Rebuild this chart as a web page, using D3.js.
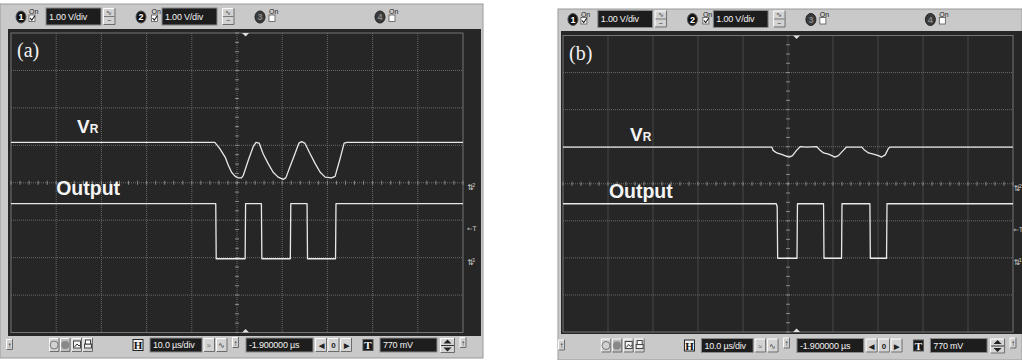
<!DOCTYPE html>
<html>
<head>
<meta charset="utf-8">
<script src="https://cdn.jsdelivr.net/npm/d3@7"></script>
<style>
  body { margin: 0; background: #fff; }
  svg { display: block; font-family: 'Liberation Sans', Arial, sans-serif; }
</style>
</head>
<body>
<svg id="chart" width="1022" height="360"></svg>
<script>
// scope settings
const channelLabels = ['1', '2', '3', '4'];
const channelOn = [true, true, false, false];
const voltLabels = ['1.00 V/div', '1.00 V/div'];
const timeLabel = '10.0 \u00b5s/div';
const delayLabel = '-1.900000 \u00b5s';
const trigLabel = '770 mV';
const delayUs = -1.9;
const trigVolts = 0.77;
const groundDiv = [-2, 0]; // ch1 (Output), ch2 (VR) ground markers, in divisions

// traces: [time us, screen volts from centre line]
const vrA = [
  [0, 1.08], [45.1, 1.08], [46.2, 0.91], [47.4, 0.68], [48.1, 0.46], [48.8, 0.28], [49.6, 0.17],
  [50.3, 0.13], [51.0, 0.13], [51.4, 0.2], [52.5, 0.6], [53.6, 0.97], [54.2, 1.08], [54.9, 1.06],
  [55.8, 0.77], [56.9, 0.51], [58.0, 0.28], [59.1, 0.15], [60.2, 0.09], [60.8, 0.13], [61.7, 0.42],
  [62.8, 0.77], [63.7, 1.06], [64.3, 1.1], [65.0, 1.06], [66.2, 0.77], [67.3, 0.51], [68.4, 0.28],
  [69.5, 0.15], [70.9, 0.13], [71.7, 0.17], [72.8, 0.64], [73.7, 1.06], [74.3, 1.08], [100, 1.08]
];
const outA = [
  [0, -0.56], [45.3, -0.56], [45.4, -2.03], [51.8, -2.03], [51.9, -0.56], [55.4, -0.56],
  [55.5, -2.03], [61.8, -2.03], [61.9, -0.56], [65.5, -0.56], [65.6, -2.03], [71.8, -2.03],
  [71.9, -0.56], [100, -0.56]
];
const vrB = [
  [0, 0.99], [46.4, 0.99], [46.7, 0.9], [47.5, 0.83], [48.6, 0.79], [49.7, 0.74], [50.3, 0.72],
  [51.0, 0.76], [51.9, 0.9], [52.7, 1.0], [54.2, 0.99], [56.4, 1.0], [57.0, 0.92], [57.9, 0.83],
  [59.0, 0.8], [60.1, 0.74], [60.4, 0.72], [61.2, 0.76], [62.3, 0.9], [63.0, 0.99], [66.4, 0.99],
  [66.9, 0.92], [67.9, 0.83], [69.0, 0.8], [70.1, 0.76], [70.8, 0.72], [71.6, 0.78], [72.3, 0.95],
  [72.7, 0.99], [100, 0.99]
];
const outB = [
  [0, -0.54], [47.4, -0.54], [47.6, -0.62], [47.7, -2.01], [52.0, -2.01], [52.1, -0.54],
  [57.9, -0.54], [58.0, -2.01], [61.9, -2.01], [62.0, -0.54], [68.2, -0.54], [68.3, -2.01],
  [71.9, -2.01], [72.0, -0.54], [100, -0.54]
];

// layout of the two screenshots
const panels = [
  { tag: '(a)', vr: vrA, out: outA,
    outer: [0, 4, 483, 358], screen: [8, 29, 481, 336], grid: [11, 33, 463, 332.5],
    topY: 16.5, botY: 345, vrAt: [14.6, 1.34], outAt: [10.0, -0.34], markX: 467 },
  { tag: '(b)', vr: vrB, out: outB,
    outer: [558, 9, 1022, 360], screen: [561, 31, 1022, 334], grid: [563, 35.5, 1013, 332],
    topY: 19, botY: 345.5, vrAt: [14.9, 1.16], outAt: [10.2, -0.38], markX: 1013.5 }
];

const svg = d3.select('#chart');

function bevel(g, x, y, w, h, fill) {
  g.append('rect').attr('x', x).attr('y', y).attr('width', w).attr('height', h)
    .attr('fill', fill || '#d4d4d4');
  g.append('path').attr('d', `M${x + 0.5},${y + h}V${y + 0.5}H${x + w}`)
    .attr('stroke', '#fbfbfb').attr('fill', 'none');
  g.append('path').attr('d', `M${x + 0.5},${y + h - 0.5}H${x + w - 0.5}V${y}`)
    .attr('stroke', '#6c6c6c').attr('fill', 'none');
}

function darkBox(g, x, y, w, h, text) {
  g.append('rect').attr('x', x).attr('y', y).attr('width', w).attr('height', h)
    .attr('fill', '#1d1d1d').attr('stroke', '#8a8a8a');
  g.append('text').attr('x', x + 3).attr('y', y + h / 2 + 3.3)
    .attr('fill', '#f2f2f2').attr('font-size', 9).attr('letter-spacing', -0.2).text(text);
}

function arrowBtn(g, x, y) {
  bevel(g, x, y, 7, 11, '#d0d0d0');
  g.append('text').attr('x', x + 3.5).attr('y', y + 8.5).attr('text-anchor', 'middle')
    .attr('font-size', 8).attr('fill', '#222').text('\u2191');
}

function drawPanel(p) {
  const g = svg.append('g');
  const [gx0, gy0, gx1, gy1] = p.grid;
  const kx = (gx1 - gx0) / 452;
  const ox = v => gx0 + v * kx;

  const x = d3.scaleLinear().domain([0, 100]).range([gx0, gx1]);
  const y = d3.scaleLinear().domain([-4, 4]).range([gy1, gy0]);

  // frame + screen
  g.append('rect').attr('x', p.outer[0]).attr('y', p.outer[1])
    .attr('width', p.outer[2] - p.outer[0]).attr('height', p.outer[3] - p.outer[1])
    .attr('fill', '#c9c9c9').attr('stroke', '#9a9a9a');
  g.append('rect').attr('x', p.screen[0]).attr('y', p.screen[1])
    .attr('width', p.screen[2] - p.screen[0]).attr('height', p.screen[3] - p.screen[1])
    .attr('fill', '#262626');

  // graticule
  const grid = g.append('g').attr('stroke', '#6a6a6a').attr('stroke-width', 1);
  grid.selectAll('.vl').data(d3.range(10, 100, 10)).enter().append('line')
    .attr('x1', d => x(d)).attr('x2', d => x(d)).attr('y1', gy0).attr('y2', gy1)
    .attr('stroke-dasharray', '1,1');
  grid.selectAll('.hl').data(d3.range(-3, 4, 1)).enter().append('line')
    .attr('x1', gx0).attr('x2', gx1).attr('y1', d => y(d)).attr('y2', d => y(d))
    .attr('stroke-dasharray', '1,1');
  grid.append('rect').attr('x', gx0).attr('y', gy0).attr('width', gx1 - gx0).attr('height', gy1 - gy0)
    .attr('fill', 'none').attr('stroke', '#747474');

  // centre cross minor ticks
  grid.selectAll('.ht').data(d3.range(0, 101, 2)).enter().append('line')
    .attr('x1', d => x(d)).attr('x2', d => x(d)).attr('y1', y(0) - 2).attr('y2', y(0) + 2)
    .attr('stroke', '#8a8a8a');
  grid.selectAll('.vt').data(d3.range(-4, 4.01, 0.25)).enter().append('line')
    .attr('x1', x(50) - 2).attr('x2', x(50) + 2).attr('y1', d => y(d)).attr('y2', d => y(d))
    .attr('stroke', '#8a8a8a');

  // trigger position markers
  const tx = x(50 - delayUs);
  g.append('path').attr('d', `M${tx - 3.5},${gy0}L${tx + 3.5},${gy0}L${tx},${gy0 + 3.5}Z`).attr('fill', '#e0e0e0');
  g.append('path').attr('d', `M${tx - 3.5},${gy1}L${tx + 3.5},${gy1}L${tx},${gy1 - 3.5}Z`).attr('fill', '#e0e0e0');

  // right edge markers
  const mk = g.append('g').attr('fill', '#cfcfcf').attr('font-family', 'DejaVu Sans, sans-serif');
  [1, 0].forEach(ci => {
    mk.append('text').attr('x', p.markX).attr('y', y(groundDiv[ci]) + 7)
      .attr('font-size', 8).text('\u21c5');
    mk.append('text').attr('x', p.markX + 5).attr('y', y(groundDiv[ci]) + 4)
      .attr('font-size', 5.5).text(channelLabels[ci]);
  });
  mk.append('text').attr('x', p.markX).attr('y', y(groundDiv[0] + trigVolts) + 2.5)
    .attr('font-size', 6.5).text('\u2190T');

  // traces
  const line = d3.line().x(d => x(d[0])).y(d => y(d[1]));
  [p.vr, p.out].forEach(s => {
    g.append('path').datum(s).attr('d', line).attr('fill', 'none')
      .attr('stroke', '#e8e8e8').attr('stroke-width', 1.3).attr('stroke-linejoin', 'round');
  });

  // labels on the screen
  g.append('text').attr('x', gx0 + 6).attr('y', gy0 + 24)
    .attr('font-family', 'Liberation Serif, Times New Roman, serif').attr('font-size', 20)
    .attr('fill', '#f2f2f2').text(p.tag);
  const vr = g.append('text').attr('x', x(p.vrAt[0])).attr('y', y(p.vrAt[1]))
    .attr('font-weight', 'bold').attr('fill', '#f4f4f4');
  vr.append('tspan').attr('font-size', 19).text('V');
  vr.append('tspan').attr('font-size', 12).text('R');
  g.append('text').attr('x', x(p.outAt[0])).attr('y', y(p.outAt[1]))
    .attr('font-weight', 'bold').attr('font-size', 19.5).attr('fill', '#f4f4f4').text('Output');

  // top channel bar
  const badgeX = [10, 130, 249, 369];
  const onX = [18, 140.5, 258, 378];
  const boxX = [35, 151];
  const btnX = [92, 211];
  const ty = p.topY;
  channelLabels.forEach((c, i) => {
    const on = channelOn[i];
    g.append('ellipse').attr('cx', ox(badgeX[i])).attr('cy', ty + 0.5).attr('rx', 5).attr('ry', 6)
      .attr('fill', on ? '#111' : '#3a3a3a').attr('stroke', on ? '#555' : '#222');
    g.append('text').attr('x', ox(badgeX[i])).attr('y', ty + 3.8).attr('text-anchor', 'middle')
      .attr('font-size', 9).attr('font-weight', 'bold').attr('fill', on ? '#fff' : '#888').text(c);
    g.append('text').attr('x', ox(onX[i])).attr('y', ty - 2.5)
      .attr('font-size', 7).attr('fill', '#222').text('On');
    g.append('rect').attr('x', ox(onX[i])).attr('y', ty - 1.5).attr('width', 6).attr('height', 6.5)
      .attr('fill', '#fff').attr('stroke', '#555').attr('stroke-width', 0.8);
    if (on) {
      g.append('path').attr('d', `M${ox(onX[i]) + 1},${ty + 1.5}l1.8,2.2l3,-4.5`)
        .attr('fill', 'none').attr('stroke', '#111').attr('stroke-width', 1.1);
    }
    if (i < 2) {
      darkBox(g, ox(boxX[i]), ty - 8.5, 55 * kx, 17, voltLabels[i]);
      bevel(g, ox(btnX[i]), ty - 8.5, 12.5, 17, '#d2d2d2');
      g.append('line').attr('x1', ox(btnX[i]) + 1).attr('x2', ox(btnX[i]) + 11.5)
        .attr('y1', ty).attr('y2', ty).attr('stroke', '#777');
      g.append('text').attr('x', ox(btnX[i]) + 6.25).attr('y', ty - 2).attr('text-anchor', 'middle')
        .attr('font-size', 7).attr('fill', '#333').text('\u223f');
      g.append('text').attr('x', ox(btnX[i]) + 6.25).attr('y', ty + 6.5).attr('text-anchor', 'middle')
        .attr('font-size', 7).attr('fill', '#333').text('~');
    }
  });

  // bottom time / trigger bar
  const by = p.botY;
  const bt = by - 7;
  arrowBtn(g, ox(-5), by - 6);
  // run / stop / snapshot / print buttons
  const icoX = [38, 49, 60.5, 71.5];
  icoX.forEach((v, i) => bevel(g, ox(v), bt, 10.5, 14, i === 1 ? '#bdbdbd' : '#d2d2d2'));
  g.append('circle').attr('cx', ox(43.2)).attr('cy', by).attr('r', 4)
    .attr('fill', 'none').attr('stroke', '#777');
  g.append('circle').attr('cx', ox(54.2)).attr('cy', by).attr('r', 4).attr('fill', '#888');
  g.append('rect').attr('x', ox(62.5)).attr('y', by - 4).attr('width', 7).attr('height', 7)
    .attr('fill', '#f4f4f4').attr('stroke', '#444');
  g.append('path').attr('d', `M${ox(63.5)},${by + 2}l2.5,-3l2,2l1.5,-1.5`).attr('fill', 'none').attr('stroke', '#333');
  g.append('rect').attr('x', ox(73.5)).attr('y', by - 1).attr('width', 7).attr('height', 4)
    .attr('fill', '#eee').attr('stroke', '#444');
  g.append('rect').attr('x', ox(74.5)).attr('y', by - 5).attr('width', 5).attr('height', 4)
    .attr('fill', '#fff').attr('stroke', '#444');

  // H box
  g.append('rect').attr('x', ox(122)).attr('y', by - 5.5).attr('width', 10).attr('height', 11)
    .attr('fill', '#f2f2f2').attr('stroke', '#222');
  g.append('text').attr('x', ox(127)).attr('y', by + 4).attr('text-anchor', 'middle')
    .attr('font-family', 'Liberation Serif, serif').attr('font-weight', 'bold')
    .attr('font-size', 11).attr('fill', '#111').text('H');
  darkBox(g, ox(139), bt, 52 * kx, 14, timeLabel);
  bevel(g, ox(192.5), bt, 11.5, 14);
  g.append('text').attr('x', ox(198)).attr('y', by + 3).attr('text-anchor', 'middle')
    .attr('font-size', 7).attr('fill', '#555').text('\u2248');
  bevel(g, ox(205), bt, 11.5, 14);
  g.append('text').attr('x', ox(210.5)).attr('y', by + 3).attr('text-anchor', 'middle')
    .attr('font-size', 8).attr('fill', '#333').text('\u223f');
  arrowBtn(g, ox(221), by - 8);
  darkBox(g, ox(235), bt, 67 * kx, 14, delayLabel);
  // delay nudge buttons
  ['\u25c0', '0', '\u25b6'].forEach((s, i) => {
    bevel(g, ox(304 + i * 12.5), bt, 12, 14);
    g.append('text').attr('x', ox(310 + i * 12.5)).attr('y', by + 3).attr('text-anchor', 'middle')
      .attr('font-size', i === 1 ? 8 : 6.5).attr('font-weight', 'bold').attr('fill', '#222').text(s);
  });
  // T box
  g.append('rect').attr('x', ox(352)).attr('y', by - 5.5).attr('width', 10).attr('height', 11)
    .attr('fill', '#1a1a1a').attr('stroke', '#555');
  g.append('text').attr('x', ox(357)).attr('y', by + 4).attr('text-anchor', 'middle')
    .attr('font-family', 'Liberation Serif, serif').attr('font-weight', 'bold')
    .attr('font-size', 11).attr('fill', '#f2f2f2').text('T');
  darkBox(g, ox(369), bt, 57 * kx, 14, trigLabel);
  bevel(g, ox(429), bt, 15, 15);
  g.append('line').attr('x1', ox(430)).attr('x2', ox(443)).attr('y1', by + 0.5).attr('y2', by + 0.5)
    .attr('stroke', '#333');
  g.append('path').attr('d', `M${ox(432.5)},${by - 1.5}h8l-4,-4z`).attr('fill', '#222');
  g.append('path').attr('d', `M${ox(432.5)},${by + 2.5}h8l-4,4z`).attr('fill', '#222');
  arrowBtn(g, ox(448.5), by - 8);
}

panels.forEach(drawPanel);
</script>
</body>
</html>
